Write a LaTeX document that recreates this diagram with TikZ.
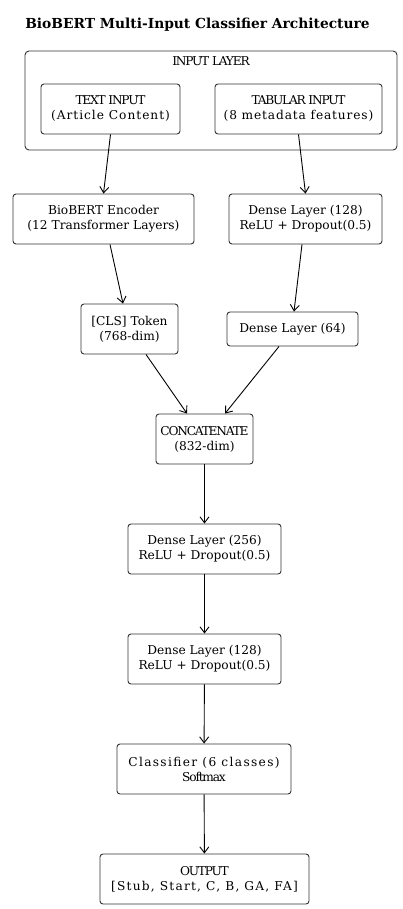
\documentclass[tikz,border=0pt]{standalone}
\usepackage{fontspec}
\setmainfont{DejaVu Serif}
\usetikzlibrary{arrows.meta}
\newcommand\squeeze[1]{{\addfontfeature{LetterSpace=-10}#1}}
\newcommand\spread[2][5]{{\addfontfeature{LetterSpace=#1}#2}}
\begin{document}
\begin{tikzpicture}[x=1pt,y=-1pt,
  box/.style={draw=black!80,line width=0.9pt,rounded corners=3pt,align=center,
    inner sep=0pt,font=\fontsize{12.2}{15}\selectfont},
  link/.style={-{Straight Barb[length=6pt,width=9pt]},line width=0.9pt}]
\useasboundingbox (0,0) rectangle (402,909);
\node[font=\bfseries\fontsize{13.8}{16}\selectfont] (title) at (197.5,25) {BioBERT Multi-Input Classifier Architecture};
\draw[black!80,line width=0.9pt,rounded corners=4pt] (25,51) rectangle (397,150);
\node[font=\fontsize{12.2}{15}\selectfont] (inlayer) at (211,61.5) {\squeeze{INPUT LAYER}};
\node[box,minimum width=139pt,minimum height=50pt] (textin) at (110.5,109) {\squeeze{TEXT INPUT}\\\spread[8]{(Article Content)}};
\node[box,minimum width=167pt,minimum height=50pt] (tabin) at (298.5,109) {\squeeze{TABULAR INPUT}\\\spread[7]{(8 metadata features)}};
\node[box,minimum width=181pt,minimum height=50pt] (bert) at (103.5,219) {BioBERT Encoder\\(12 Transformer Layers)};
\node[box,minimum width=153pt,minimum height=50pt] (dense1) at (305.5,219) {Dense Layer (128)\\ReLU + Dropout(0.5)};
\node[box,minimum width=97pt,minimum height=50pt] (cls) at (129.5,329) {[CLS] Token\\(768-dim)};
\node[box,minimum width=131pt,minimum height=34pt] (dense2) at (292.5,329) {Dense Layer (64)};
\node[box,minimum width=97pt,minimum height=50pt] (concat) at (204.5,439) {\squeeze{CONCATENATE}\\(832-dim)};
\node[box,minimum width=153pt,minimum height=50pt] (dense3) at (204.5,549) {Dense Layer (256)\\ReLU + Dropout(0.5)};
\node[box,minimum width=153pt,minimum height=50pt] (dense4) at (204.5,659) {Dense Layer (128)\\ReLU + Dropout(0.5)};
\node[box,minimum width=174pt,minimum height=50pt] (clf) at (204,769) {\spread[11]{Classifier (6 classes)}\\\squeeze{Softmax}};
\node[box,minimum width=209pt,minimum height=50pt] (out) at (204.5,879) {\squeeze{OUTPUT}\\\spread[10]{[Stub, Start, C, B, GA, FA]}};
% connections
\draw[link] (textin.south) -- (bert.north);
\draw[link] (tabin.south) -- (dense1.north);
\draw[link] ([xshift=6.5pt]bert.south) -- ([xshift=-6.5pt]cls.north);
\draw[link] ([xshift=-3.5pt]dense1.south) -- ([xshift=1.5pt]dense2.north);
\draw[link] ([xshift=16.5pt]cls.south) -- ([xshift=-17.5pt]concat.north);
\draw[link] ([xshift=-13.5pt]dense2.south) -- ([xshift=20.5pt]concat.north);
\foreach \a/\b in {concat/dense3,dense3/dense4,dense4/clf,clf/out}
  \draw[link] (\a) -- (\b);
\end{tikzpicture}
\end{document}
